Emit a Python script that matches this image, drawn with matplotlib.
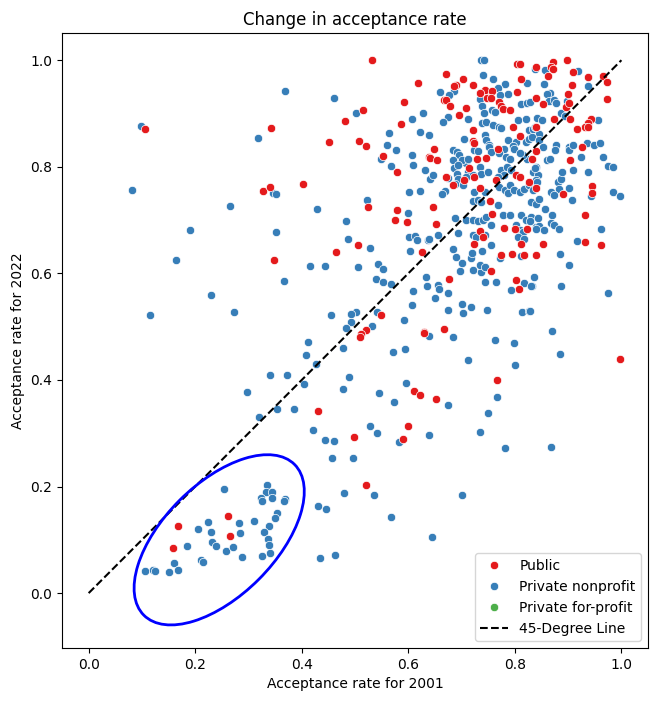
import matplotlib
matplotlib.use("Agg")
import matplotlib.pyplot as plt
from matplotlib.patches import Ellipse
from matplotlib.lines import Line2D

# ---- data ----
public_x = [0.105, 0.343, 0.327, 0.340, 0.531, 0.619, 0.592, 0.514, 0.482, 0.586, 0.452, 0.507,
            0.521, 0.553, 0.638, 0.578, 0.403, 0.524, 0.578, 0.575, 0.598, 0.505, 0.465, 0.626, 0.348,
            0.804, 0.809, 0.670, 0.702, 0.812, 0.690, 0.686, 0.721, 0.744, 0.734, 0.757, 0.804, 0.748,
            0.755, 0.667, 0.671, 0.770, 0.840, 0.679, 0.774, 0.777, 0.790, 0.709, 0.695, 0.796, 0.722,
            0.810, 0.721, 0.723, 0.648, 0.768, 0.640, 0.653, 0.729, 0.745, 0.671, 0.714, 0.724, 0.802,
            0.809,
            0.684, 0.705, 0.734, 0.765, 0.647, 0.652, 0.754, 0.757, 0.735, 0.741, 0.724, 0.780, 0.800,
            0.822, 0.812, 0.774, 0.794, 0.817, 0.840, 0.755, 0.676, 0.802, 0.807, 0.630, 0.667,
            0.840, 0.827, 0.890, 0.945, 0.945, 0.932, 0.931, 0.962, 0.852,
            0.898, 0.871, 0.868, 0.871, 0.840, 0.909, 0.863, 0.937, 0.966, 0.972, 0.907, 0.899, 0.972,
            0.852, 0.896, 0.901, 0.904, 0.873, 0.942, 0.938, 0.931, 0.937, 0.840, 0.916, 0.926, 0.839,
            0.832, 0.904,
            0.548, 0.520, 0.512, 0.510, 0.629, 0.610, 0.622, 0.430, 0.599, 0.498, 0.590,
            0.998, 0.767, 0.652,
            0.262, 0.167, 0.266, 0.159, 0.520]
public_y = [0.870, 0.872, 0.755, 0.762, 1.000, 0.957, 0.922, 0.907, 0.886, 0.880, 0.846, 0.849,
            0.839, 0.820, 0.818, 0.790, 0.767, 0.724, 0.719, 0.700, 0.697, 0.654, 0.641, 0.640, 0.625,
            0.992, 0.992, 0.974, 0.964, 0.965, 0.954, 0.952, 0.954, 0.945, 0.939, 0.943, 0.941, 0.929,
            0.930, 0.925, 0.926, 0.922, 0.930, 0.914, 0.914, 0.908, 0.906, 0.910, 0.897, 0.874, 0.869,
            0.858, 0.849, 0.844, 0.834, 0.834, 0.817, 0.813, 0.815, 0.817, 0.781, 0.797, 0.780, 0.784,
            0.781,
            0.765, 0.775, 0.760, 0.775, 0.724, 0.692, 0.735, 0.712, 0.680, 0.669, 0.656, 0.686, 0.684,
            0.684, 0.656, 0.634, 0.636, 0.635, 0.635, 0.604, 0.589, 0.587, 0.570, 0.490, 0.495,
            0.761, 0.772, 0.749, 0.764, 0.751, 0.709, 0.659, 0.653, 0.655,
            1.000, 0.996, 0.988, 0.984, 0.988, 0.978, 0.971, 0.969, 0.970, 0.960, 0.954, 0.936, 0.927,
            0.917, 0.913, 0.919, 0.890, 0.889, 0.889, 0.882, 0.874, 0.874, 0.874, 0.870, 0.838, 0.829,
            0.815, 0.812,
            0.521, 0.493, 0.486, 0.481, 0.488, 0.380, 0.371, 0.342, 0.314, 0.293, 0.289,
            0.439, 0.400, 0.364,
            0.145, 0.125, 0.108, 0.085, 0.203]

private_x = [0.099, 0.318, 0.081, 0.346, 0.351, 0.265, 0.191, 0.163, 0.368, 0.460, 0.627, 0.607,
             0.502, 0.622, 0.563, 0.638, 0.560, 0.577, 0.549, 0.606, 0.568, 0.608, 0.632, 0.640, 0.428,
             0.523, 0.601, 0.621, 0.600, 0.483, 0.351, 0.487, 0.528, 0.602, 0.612, 0.616, 0.637, 0.603,
             0.230, 0.273, 0.115, 0.340, 0.298, 0.320,
             0.737, 0.742, 0.837, 0.740, 0.759, 0.781, 0.823, 0.660, 0.686, 0.677, 0.769, 0.788, 0.773,
             0.735, 0.812, 0.822, 0.829, 0.738, 0.757, 0.762, 0.742, 0.712, 0.675, 0.665, 0.738, 0.746,
             0.759, 0.771, 0.774, 0.805, 0.820, 0.841, 0.826, 0.834, 0.838, 0.744, 0.704, 0.746, 0.752,
             0.787, 0.802, 0.796, 0.820, 0.827, 0.684, 0.692, 0.696, 0.724, 0.730, 0.752, 0.755, 0.780,
             0.798, 0.709, 0.646, 0.685, 0.691, 0.712, 0.721, 0.734, 0.737, 0.749, 0.774, 0.780, 0.768,
             0.785, 0.793, 0.840, 0.834, 0.843, 0.823, 0.815, 0.809, 0.771, 0.784, 0.790, 0.701, 0.712,
             0.684, 0.693,
             0.669, 0.663, 0.674, 0.693, 0.709, 0.687, 0.702, 0.724, 0.743, 0.721, 0.730, 0.737, 0.771,
             0.782, 0.787, 0.790, 0.799, 0.809, 0.818, 0.827, 0.834, 0.769, 0.777, 0.790, 0.709, 0.721,
             0.730, 0.740, 0.746, 0.755, 0.721, 0.727, 0.812, 0.821, 0.830, 0.843, 0.802, 0.809, 0.816,
             0.633, 0.635, 0.655, 0.657, 0.675, 0.650, 0.701, 0.717, 0.702, 0.675, 0.747, 0.813, 0.827,
             0.743, 0.765, 0.792, 0.817, 0.832, 0.721, 0.737, 0.735, 0.743, 0.697, 0.701, 0.690, 0.684,
             0.718, 0.720, 0.738, 0.773, 0.638, 0.655, 0.693, 0.743, 0.755, 0.812, 0.806, 0.818, 0.840,
             0.687,
             0.840, 0.842, 0.881, 0.887, 0.882, 0.901, 0.867, 0.873, 0.907, 0.943, 0.984, 0.998, 0.830,
             0.840, 0.846, 0.857, 0.870, 0.829, 0.867, 0.874, 0.883, 0.845, 0.839, 0.854, 0.961, 0.916,
             0.884, 0.902, 0.835, 0.830, 0.887, 0.974, 0.829, 0.869,
             0.856, 0.918, 0.854, 0.938, 0.865, 0.860, 0.864, 0.874, 0.877, 0.897, 0.887, 0.895, 0.851,
             0.956, 0.846, 0.833, 0.846, 0.935, 0.949, 0.960, 0.877, 0.876, 0.901, 0.902, 0.909, 0.852,
             0.924, 0.965, 0.860, 0.865, 0.974, 0.984, 0.837, 0.888, 0.909, 0.937,
             0.415, 0.443, 0.505, 0.543, 0.553, 0.367, 0.539, 0.552, 0.568, 0.609, 0.606, 0.454, 0.502,
             0.492, 0.542, 0.493, 0.483, 0.532, 0.592, 0.638, 0.411, 0.408, 0.477, 0.427, 0.572, 0.593,
             0.373, 0.489, 0.405, 0.478, 0.595, 0.545, 0.574, 0.353, 0.386, 0.421, 0.528, 0.541, 0.443,
             0.461, 0.582, 0.638,
             0.683, 0.762, 0.798, 0.884, 0.712, 0.801, 0.675, 0.767, 0.749, 0.734, 0.782, 0.867,
             0.457, 0.497, 0.479, 0.536, 0.701, 0.430, 0.446, 0.568, 0.645, 0.435, 0.462,
             0.254, 0.335, 0.332, 0.344, 0.324, 0.344, 0.326, 0.368, 0.366, 0.354, 0.349, 0.310, 0.224,
             0.283, 0.206, 0.230, 0.338, 0.330, 0.284, 0.336, 0.338, 0.341, 0.326, 0.232, 0.239, 0.184,
             0.257, 0.271, 0.288, 0.211, 0.214, 0.160, 0.106, 0.121, 0.125, 0.151, 0.168]
private_y = [0.877, 0.854, 0.757, 0.750, 0.749, 0.727, 0.682, 0.626, 0.943, 0.929, 0.900, 0.889,
             0.900, 0.866, 0.864, 0.859, 0.841, 0.831, 0.815, 0.822, 0.802, 0.804, 0.794, 0.778, 0.720,
             0.738, 0.752, 0.755, 0.714, 0.698, 0.678, 0.664, 0.647, 0.669, 0.670, 0.662, 0.662, 0.642,
             0.559, 0.527, 0.521, 0.410, 0.378, 0.331,
             1.000, 1.001, 0.984, 0.972, 0.965, 0.956, 0.957, 0.941, 0.942, 0.934, 0.947, 0.937, 0.934,
             0.927, 0.917, 0.920, 0.922, 0.914, 0.907, 0.903, 0.901, 0.890, 0.894, 0.884, 0.882, 0.884,
             0.878, 0.875, 0.872, 0.887, 0.890, 0.892, 0.869, 0.870, 0.874, 0.860, 0.853, 0.850, 0.841,
             0.850, 0.847, 0.839, 0.847, 0.853, 0.831, 0.828, 0.822, 0.831, 0.830, 0.837, 0.828, 0.834,
             0.834, 0.807, 0.784, 0.797, 0.787, 0.791, 0.784, 0.800, 0.787, 0.791, 0.794, 0.784, 0.780,
             0.800, 0.794, 0.800, 0.791, 0.784, 0.815, 0.822, 0.826, 0.825, 0.818, 0.815, 0.813, 0.815,
             0.812, 0.803,
             0.755, 0.749, 0.779, 0.778, 0.781, 0.767, 0.765, 0.753, 0.753, 0.735, 0.737, 0.734, 0.762,
             0.756, 0.750, 0.765, 0.756, 0.753, 0.759, 0.765, 0.756, 0.728, 0.710, 0.709, 0.700, 0.700,
             0.698, 0.700, 0.706, 0.690, 0.672, 0.669, 0.709, 0.700, 0.706, 0.703, 0.690, 0.681, 0.678,
             0.593, 0.576, 0.578, 0.570, 0.564, 0.553, 0.543, 0.537, 0.526, 0.531, 0.532, 0.528, 0.529,
             0.584, 0.584, 0.568, 0.581, 0.577, 0.607, 0.603, 0.615, 0.612, 0.605, 0.619, 0.631, 0.645,
             0.628, 0.639, 0.642, 0.628, 0.664, 0.672, 0.675, 0.672, 0.653, 0.632, 0.669, 0.665, 0.687,
             0.703,
             0.775, 0.772, 0.772, 0.778, 0.758, 0.760, 0.752, 0.747, 0.738, 0.745, 0.752, 0.745, 0.734,
             0.731, 0.740, 0.721, 0.709, 0.698, 0.694, 0.690, 0.684, 0.689, 0.683, 0.681, 0.684, 0.660,
             0.637, 0.616, 0.593, 0.576, 0.577, 0.564, 0.530, 0.491,
             0.981, 0.980, 0.956, 0.951, 0.939, 0.937, 0.924, 0.925, 0.920, 0.923, 0.901, 0.895, 0.887,
             0.887, 0.862, 0.855, 0.850, 0.845, 0.841, 0.844, 0.841, 0.832, 0.838, 0.831, 0.841, 0.838,
             0.818, 0.818, 0.813, 0.815, 0.802, 0.799, 0.797, 0.790, 0.794, 0.790,
             0.613, 0.613, 0.612, 0.617, 0.608, 0.585, 0.590, 0.584, 0.580, 0.567, 0.540, 0.522, 0.528,
             0.523, 0.528, 0.508, 0.498, 0.501, 0.512, 0.482, 0.471, 0.447, 0.460, 0.429, 0.453, 0.459,
             0.409, 0.406, 0.392, 0.383, 0.394, 0.376, 0.359, 0.345, 0.346, 0.307, 0.313, 0.300, 0.288,
             0.286, 0.283, 0.296,
             0.481, 0.475, 0.470, 0.448, 0.438, 0.428, 0.353, 0.368, 0.338, 0.303, 0.273, 0.275,
             0.253, 0.253, 0.187, 0.184, 0.184, 0.163, 0.157, 0.143, 0.106, 0.066, 0.072,
             0.195, 0.202, 0.190, 0.189, 0.179, 0.179, 0.173, 0.176, 0.172, 0.151, 0.141, 0.136, 0.134,
             0.131, 0.120, 0.115, 0.126, 0.115, 0.113, 0.101, 0.090, 0.076, 0.070, 0.096, 0.088, 0.088,
             0.079, 0.087, 0.067, 0.063, 0.059, 0.056, 0.041, 0.044, 0.041, 0.040, 0.043]

categories = ["Public", "Private nonprofit", "Private for-profit"]
colors = ["#e41a1c", "#377eb8", "#4daf4a"]
line_x = [0, 1]
line_y = [0, 1]

fig = plt.figure(figsize=(6.57, 7.01), dpi=100)
ax = fig.add_axes([0.0944, 0.0756, 0.892, 0.8773])

ax.scatter(private_x, private_y, s=36, c=colors[1], edgecolors="white", linewidths=0.5, zorder=2)
ax.scatter(public_x, public_y, s=36, c=colors[0], edgecolors="white", linewidths=0.5, zorder=2)
ax.plot(line_x, line_y, "k--", lw=1.5, zorder=3)

ell = Ellipse((0.245, 0.10), width=0.40, height=0.21, angle=45,
              edgecolor="blue", facecolor="none", lw=2, zorder=4)
ax.add_patch(ell)

ax.set_xlim(-0.05, 1.05)
ax.set_ylim(-0.103, 1.051)
ax.set_title("Change in acceptance rate", fontsize=12)
ax.set_xlabel("Acceptance rate for 2001")
ax.set_ylabel("Acceptance rate for 2022")

handles = [Line2D([], [], marker="o", ls="none", color=c, markeredgecolor="white",
                  markeredgewidth=0.5, markersize=6) for c in colors]
handles.append(Line2D([], [], color="k", ls="--", lw=1.5))
ax.legend(handles, categories + ["45-Degree Line"], loc="lower right")

fig.savefig("out.png", dpi=100)
